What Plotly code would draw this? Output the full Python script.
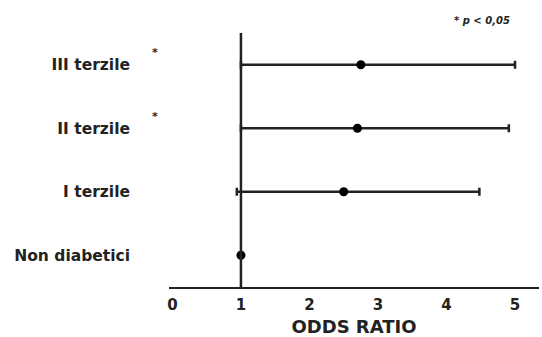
import plotly.graph_objects as go

categories = ["Non diabetici", "I terzile", "II terzile", "III terzile"]
odds_ratio = [1.0, 2.5, 2.7, 2.75]
ci_lower = [1.0, 0.94, 1.0, 1.0]
ci_upper = [1.0, 4.48, 4.91, 5.0]
significant = [False, False, True, True]
x_ticks = [0, 1, 2, 3, 4, 5]
reference_value = 1

err_plus = [u - o for u, o in zip(ci_upper, odds_ratio)]
err_minus = [o - l for o, l in zip(odds_ratio, ci_lower)]
has_ci = [u != l for u, l in zip(ci_upper, ci_lower)]

FONT = "DejaVu Sans"

fig = go.Figure()
fig.add_trace(go.Scatter(
    x=odds_ratio, y=categories, mode="markers",
    marker=dict(color="black", size=9),
    error_x=dict(type="data", symmetric=False,
                 array=[p if h else None for p, h in zip(err_plus, has_ci)],
                 arrayminus=[m if h else None for m, h in zip(err_minus, has_ci)],
                 color="#222", thickness=2.5, width=4),
    showlegend=False,
))
fig.add_vline(x=reference_value, line=dict(color="#222", width=2.5))

for cat, sig in zip(categories, significant):
    if sig:
        fig.add_annotation(x=0, y=cat, xref="paper", yref="y", text="*",
                           showarrow=False, xanchor="left", yanchor="middle",
                           xshift=-19, yshift=12,
                           font=dict(family=FONT, size=11, color="#222", weight="bold"))

fig.add_annotation(x=0.845, y=1.05, xref="paper", yref="paper",
                   text="<i>* p &lt; 0,05</i>", showarrow=False,
                   xanchor="center", yanchor="middle",
                   font=dict(family=FONT, size=10, color="#222", weight="bold"))

fig.update_xaxes(range=[-0.05, 5.35], tickvals=x_ticks, ticks="",
                 showline=True, linecolor="#222", linewidth=2,
                 showgrid=False, zeroline=False, ticklabelstandoff=3,
                 tickfont=dict(family=FONT, size=15, color="#222", weight="bold"),
                 title=dict(text="ODDS RATIO", standoff=8,
                            font=dict(family=FONT, size=18, color="#222", weight="bold")))
fig.update_yaxes(categoryorder="array", categoryarray=categories,
                 range=[-0.5, 3.5], showgrid=False, zeroline=False, showline=False,
                 ticks="", ticklabelstandoff=38,
                 tickfont=dict(family=FONT, size=15.5, color="#222", weight="bold"))

fig.update_layout(width=542, height=337, margin=dict(l=169, r=3, t=33, b=50),
                  plot_bgcolor="white", paper_bgcolor="white")
fig.write_html("out.html")
